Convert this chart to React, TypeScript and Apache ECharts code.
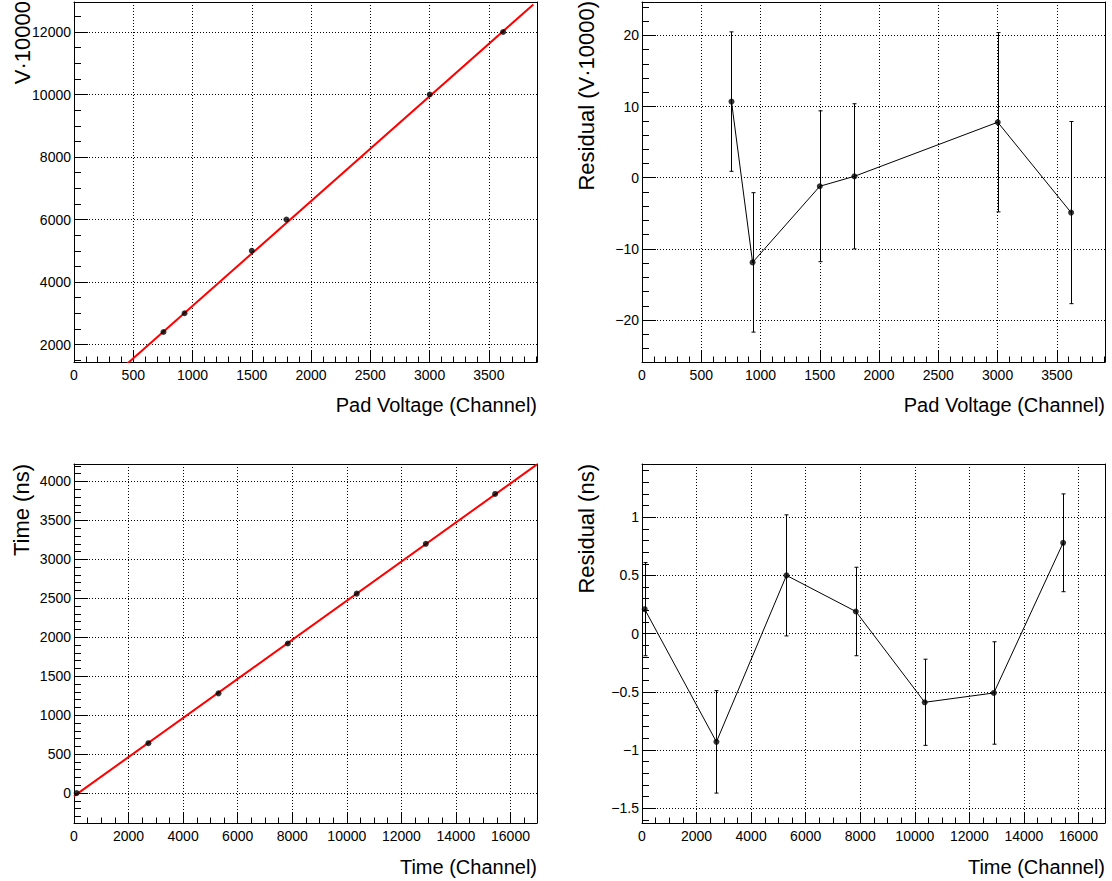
import React, { useEffect, useRef } from 'react';
import * as echarts from 'echarts';

// Pad voltage calibration: ADC channel vs. applied voltage (V·10000)
const padVoltageChannel = [755, 933, 1500, 1792, 3001, 3620];
const padVoltageValue = [2400, 3000, 5000, 6000, 10000, 12000];
const voltageFitX = [0, 3875];
const voltageFitY = [-120, 12880];
const voltageResidual = [10.7, -11.9, -1.2, 0.2, 7.8, -4.9];
const voltageResidualErr = [9.8, 9.8, 10.6, 10.2, 12.6, 12.8];

// Time calibration: TDC channel vs. time (ns)
const timeChannel = [98, 2728, 5296, 7838, 10363, 12896, 15437];
const timeValue = [0, 640, 1280, 1920, 2560, 3200, 3840];
const timeFitX = [0, 16971];
const timeFitY = [-39, 4219];
const timeResidual = [0.21, -0.93, 0.5, 0.19, -0.59, -0.51, 0.78];
const timeResidualErr = [0.4, 0.44, 0.52, 0.38, 0.37, 0.44, 0.42];

// Axis ranges
const voltageChannelRange = [0, 3906];
const voltageRange = [1440, 12960];
const voltageResidualRange = [-25.9, 24.7];
const timeChannelRange = [0, 16971];
const timeRange = [-384, 4224];
const timeResidualRange = [-1.627, 1.457];

const FONT = '"Liberation Sans", Arial, Helvetica, sans-serif';

const grids = [
  { left: 74, top: 2, width: 463, height: 360 },
  { left: 642, top: 2, width: 463, height: 360 },
  { left: 74, top: 464, width: 463, height: 359 },
  { left: 642, top: 464, width: 463, height: 359 },
];

function tickFormatter(step: number) {
  return (v: number) => {
    const k = v / step;
    if (Math.abs(k - Math.round(k)) > 1e-6) return '';
    const s = String(+v.toFixed(6));
    return v < 0 ? '\u2212' + s.slice(1) : s;
  };
}

function mainAxis(dim: 'x' | 'y', gridIndex: number, range: number[], step: number, minorSplit: number) {
  const isX = dim === 'x';
  return {
    type: 'value',
    gridIndex,
    position: isX ? 'bottom' : 'left',
    min: range[0],
    max: range[1],
    minInterval: step,
    maxInterval: step,
    splitNumber: Math.max(1, Math.round((range[1] - range[0]) / step)),
    axisLine: { show: true, onZero: false, lineStyle: { color: '#000', width: 1 } },
    axisTick: { show: true, inside: true, length: isX ? 11 : 14, lineStyle: { color: '#000', width: 1 } },
    minorTick: { show: true, splitNumber: minorSplit, length: isX ? 5.5 : 7, lineStyle: { color: '#000', width: 1 } },
    splitLine: { show: true, lineStyle: { color: '#000', width: 1, type: [1, 2] } },
    minorSplitLine: { show: false },
    axisLabel: {
      show: true,
      margin: isX ? 6 : 3,
      color: '#000',
      fontSize: 14,
      fontFamily: FONT,
      formatter: tickFormatter(step),
      hideOverlap: false,
    },
  };
}

function frameAxis(dim: 'x' | 'y', gridIndex: number, range: number[]) {
  return {
    type: 'value',
    gridIndex,
    position: dim === 'x' ? 'top' : 'right',
    min: range[0],
    max: range[1],
    axisLine: { show: true, onZero: false, lineStyle: { color: '#000', width: 1 } },
    axisTick: { show: false },
    minorTick: { show: false },
    splitLine: { show: false },
    axisLabel: { show: false },
  };
}

function zip(xs: number[], ys: number[]) {
  return xs.map((x, i) => [x, ys[i]]);
}

function errorBars(axisIndex: number, xs: number[], ys: number[], errs: number[]) {
  return {
    type: 'custom',
    xAxisIndex: axisIndex,
    yAxisIndex: axisIndex,
    clip: true,
    data: xs.map((x, i) => [x, ys[i] - errs[i], ys[i] + errs[i]]),
    encode: { x: 0, y: [1, 2] },
    renderItem: (params: any, api: any) => {
      const lo = api.coord([api.value(0), api.value(1)]);
      const hi = api.coord([api.value(0), api.value(2)]);
      const x = Math.round(lo[0]) + 0.5;
      const style = { stroke: '#000', lineWidth: 1, fill: 'none' };
      return {
        type: 'group',
        children: [
          { type: 'line', shape: { x1: x, y1: lo[1], x2: x, y2: hi[1] }, style },
          { type: 'line', shape: { x1: x - 2, y1: lo[1], x2: x + 2, y2: lo[1] }, style },
          { type: 'line', shape: { x1: x - 2, y1: hi[1], x2: x + 2, y2: hi[1] }, style },
        ],
      };
    },
    z: 3,
  };
}

function points(axisIndex: number, xs: number[], ys: number[]) {
  return {
    type: 'scatter',
    xAxisIndex: axisIndex,
    yAxisIndex: axisIndex,
    symbol: 'circle',
    symbolSize: 6,
    itemStyle: { color: '#000' },
    data: zip(xs, ys),
    z: 4,
  };
}

function xTitle(text: string, right: number, y: number) {
  return {
    type: 'text',
    x: right,
    y,
    style: { text, align: 'right', verticalAlign: 'middle', fontSize: 20, fontFamily: FONT, fill: '#000' },
  };
}

function yTitle(text: string, x: number, top: number) {
  return {
    type: 'text',
    x,
    y: top,
    rotation: Math.PI / 2,
    style: { text, align: 'right', verticalAlign: 'middle', fontSize: 22, fontFamily: FONT, fill: '#000' },
  };
}

const option = {
  animation: false,
  backgroundColor: '#fff',
  grid: grids.map((g) => ({ ...g, show: false, containLabel: false })),
  xAxis: [
    mainAxis('x', 0, voltageChannelRange, 500, 5),
    mainAxis('x', 1, voltageChannelRange, 500, 5),
    mainAxis('x', 2, timeChannelRange, 2000, 4),
    mainAxis('x', 3, timeChannelRange, 2000, 4),
    frameAxis('x', 0, voltageChannelRange),
    frameAxis('x', 1, voltageChannelRange),
    frameAxis('x', 2, timeChannelRange),
    frameAxis('x', 3, timeChannelRange),
  ],
  yAxis: [
    mainAxis('y', 0, voltageRange, 2000, 4),
    mainAxis('y', 1, voltageResidualRange, 10, 5),
    mainAxis('y', 2, timeRange, 500, 5),
    mainAxis('y', 3, timeResidualRange, 0.5, 5),
    frameAxis('y', 0, voltageRange),
    frameAxis('y', 1, voltageResidualRange),
    frameAxis('y', 2, timeRange),
    frameAxis('y', 3, timeResidualRange),
  ],
  series: [
    {
      type: 'line',
      xAxisIndex: 0,
      yAxisIndex: 0,
      data: zip(voltageFitX, voltageFitY),
      symbol: 'none',
      clip: true,
      lineStyle: { color: '#ff0000', width: 2 },
      z: 2,
    },
    points(0, padVoltageChannel, padVoltageValue),
    {
      type: 'line',
      xAxisIndex: 1,
      yAxisIndex: 1,
      data: zip(padVoltageChannel, voltageResidual),
      symbol: 'none',
      clip: true,
      lineStyle: { color: '#000', width: 1 },
      z: 2,
    },
    errorBars(1, padVoltageChannel, voltageResidual, voltageResidualErr),
    points(1, padVoltageChannel, voltageResidual),
    {
      type: 'line',
      xAxisIndex: 2,
      yAxisIndex: 2,
      data: zip(timeFitX, timeFitY),
      symbol: 'none',
      clip: true,
      lineStyle: { color: '#ff0000', width: 2 },
      z: 2,
    },
    points(2, timeChannel, timeValue),
    {
      type: 'line',
      xAxisIndex: 3,
      yAxisIndex: 3,
      data: zip(timeChannel, timeResidual),
      symbol: 'none',
      clip: true,
      lineStyle: { color: '#000', width: 1 },
      z: 2,
    },
    errorBars(3, timeChannel, timeResidual, timeResidualErr),
    points(3, timeChannel, timeResidual),
  ],
  graphic: [
    xTitle('Pad Voltage (Channel)', 537, 405),
    xTitle('Pad Voltage (Channel)', 1105, 405),
    xTitle('Time (Channel)', 537, 867),
    xTitle('Time (Channel)', 1105, 867),
    yTitle('V\u00b710000', 22, 1),
    yTitle('Residual (V\u00b710000)', 586, 1),
    yTitle('Time (ns)', 21, 464),
    yTitle('Residual (ns)', 586, 464),
  ],
};

export default function App() {
  const ref = useRef<HTMLDivElement>(null);
  useEffect(() => {
    const chart = echarts.init(ref.current as HTMLDivElement, undefined, { renderer: 'svg' });
    chart.setOption(option as any);
    return () => chart.dispose();
  }, []);
  return (
    <div
      ref={ref}
      style={{ position: 'fixed', left: 0, top: 0, width: 1112, height: 881, background: '#fff' }}
    />
  );
}
